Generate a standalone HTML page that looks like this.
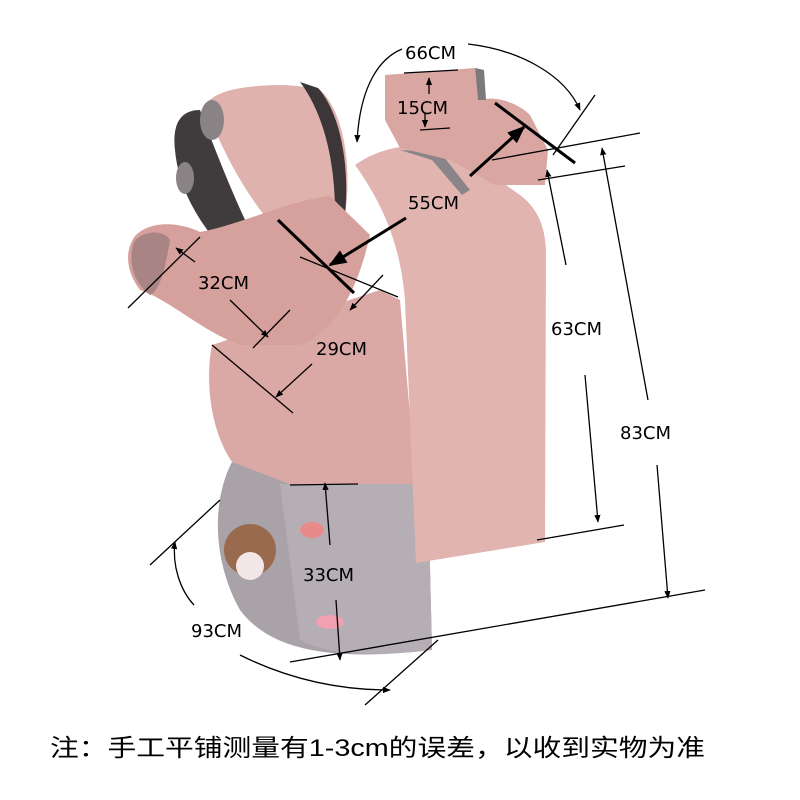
<!DOCTYPE html>
<html><head><meta charset="utf-8"><style>
html,body{margin:0;padding:0;background:#fff;width:800px;height:800px;overflow:hidden}
svg{display:block}
</style></head><body>
<svg width="800" height="800" viewBox="0 0 800 800" xmlns="http://www.w3.org/2000/svg">
<defs>
<marker id="a" viewBox="0 0 10 10" refX="9" refY="5" markerWidth="6" markerHeight="6" orient="auto-start-reverse"><path d="M0,1 L10,5 L0,9 z" fill="#000"/></marker>
</defs>
<rect width="800" height="800" fill="#fff"/>
<path d="M232,462 C212,500 212,560 240,610 C270,650 330,662 432,650 L428,484 L300,480 Z" fill="#a9a2a8"/>
<path d="M280,484 L428,484 L432,650 C380,656 330,656 300,640 L280,484 Z" fill="#b5aeb4"/>
<circle cx="250" cy="550" r="26" fill="#9a6a4e"/>
<circle cx="250" cy="566" r="14" fill="#f3e6e6"/>
<ellipse cx="312" cy="530" rx="12" ry="8" fill="#e98a8a"/>
<ellipse cx="330" cy="622" rx="14" ry="7" fill="#f0a0b0"/>
<path d="M212,345 L380,290 L400,300 L416,484 L290,484 L232,462 C210,430 205,380 212,345 Z" fill="#dba9a5"/>
<path d="M355,165 C390,140 440,140 470,160 L520,195 C540,210 545,230 546,250 L545,542 L416,563 L405,300 C400,240 380,200 355,165 Z" fill="#e2b4b0"/>
<path d="M400,150 L440,152 L470,190 L462,195 L432,160 Z" fill="#8a8588"/>
<path d="M385,75 L475,68 L478,100 C500,95 520,105 530,115 L548,150 L545,185 L495,185 L450,160 L400,148 L385,120 Z" fill="#d9a6a2"/>
<path d="M475,68 L484,70 L486,100 L478,100 Z" fill="#7d787b"/>
<!-- hood -->
<path d="M175,150 C172,125 180,110 200,110 C215,150 235,200 250,230 L215,240 C195,215 178,185 175,150 Z" fill="#403b3d"/>
<path d="M205,105 C215,90 245,85 285,85 L318,88 C345,110 352,170 345,215 L320,230 L285,238 C255,210 225,160 205,105 Z" fill="#e0b2ae"/>
<path d="M300,82 L318,88 C340,112 350,165 345,215 L335,212 C335,165 325,115 300,82 Z" fill="#3c3638"/>
<ellipse cx="212" cy="120" rx="12" ry="20" fill="#8a8386"/>
<ellipse cx="185" cy="178" rx="9" ry="16" fill="#8a8386"/>
<!-- sleeve -->
<path d="M135,236 C150,220 180,222 200,232 C240,225 290,200 330,196 L370,235 C360,280 340,330 300,345 L240,345 C200,330 170,300 140,290 C125,270 125,250 135,236 Z" fill="#d6a09c"/>
<path d="M135,240 C150,228 165,232 170,240 C165,270 160,290 150,295 C130,280 128,255 135,240 Z" fill="#a88484"/>
<g stroke="#000" fill="none" stroke-width="1.3">
<path d="M402,49 C380,58 360,85 357,142" marker-end="url(#a)"/>
<path d="M468,44 C520,50 565,75 580,110" marker-end="url(#a)"/>
<line x1="595" y1="95" x2="553" y2="155"/>
<line x1="404" y1="73" x2="458" y2="70"/>
<line x1="420" y1="130" x2="450" y2="128"/>
<line x1="429" y1="94" x2="429" y2="78" marker-end="url(#a)"/>
<line x1="425" y1="113" x2="425" y2="127" marker-end="url(#a)"/>
<line x1="492" y1="160" x2="640" y2="133"/>
<line x1="538" y1="180" x2="625" y2="166"/>
<line x1="470" y1="176" x2="524" y2="127" stroke-width="3" marker-end="url(#a)"/>
<line x1="406" y1="218" x2="330" y2="265" stroke-width="3" marker-end="url(#a)"/>
<line x1="495" y1="103" x2="575" y2="163" stroke-width="3"/>
<line x1="278" y1="220" x2="354" y2="293" stroke-width="3"/>
<line x1="128" y1="308" x2="200" y2="237"/>
<line x1="195" y1="262" x2="176" y2="248" marker-end="url(#a)"/>
<line x1="230" y1="300" x2="268" y2="337" marker-end="url(#a)"/>
<line x1="300" y1="257" x2="398" y2="297"/>
<line x1="383" y1="275" x2="350" y2="310" marker-end="url(#a)"/>
<line x1="312" y1="364" x2="276" y2="397" marker-end="url(#a)"/>
<line x1="212" y1="345" x2="293" y2="413"/>
<line x1="253" y1="348" x2="290" y2="310"/>
<line x1="566" y1="265" x2="547" y2="170" marker-end="url(#a)"/>
<line x1="585" y1="375" x2="598" y2="522" marker-end="url(#a)"/>
<line x1="537" y1="540" x2="624" y2="525"/>
<line x1="648" y1="400" x2="602" y2="148" marker-end="url(#a)"/>
<line x1="657" y1="465" x2="668" y2="598" marker-end="url(#a)"/>
<line x1="290" y1="662" x2="705" y2="590"/>
<line x1="330" y1="545" x2="325" y2="483" marker-end="url(#a)"/>
<line x1="336" y1="600" x2="340" y2="660" marker-end="url(#a)"/>
<line x1="290" y1="485" x2="358" y2="484"/>
<line x1="150" y1="565" x2="220" y2="500"/>
<path d="M194,605 C180,590 172,565 175,542" marker-end="url(#a)"/>
<path d="M240,655 C280,675 330,690 390,690" marker-end="url(#a)"/>
<line x1="365" y1="705" x2="438" y2="640"/>
</g>
<g font-family="'DejaVu Sans','Liberation Sans',sans-serif" font-size="18" fill="#000">
<text x="405" y="59">66CM</text>
<text x="397" y="114">15CM</text>
<text x="408" y="209">55CM</text>
<text x="198" y="289">32CM</text>
<text x="316" y="355">29CM</text>
<text x="551" y="335">63CM</text>
<text x="620" y="439">83CM</text>
<text x="303" y="581">33CM</text>
<text x="191" y="637">93CM</text>
</g>
<text x="50" y="756" font-family="'Liberation Sans','Noto Sans CJK SC',sans-serif" font-size="24" textLength="655" lengthAdjust="spacingAndGlyphs" fill="#000">注：手工平铺测量有1-3cm的误差，以收到实物为准</text>
</svg>
</body></html>
